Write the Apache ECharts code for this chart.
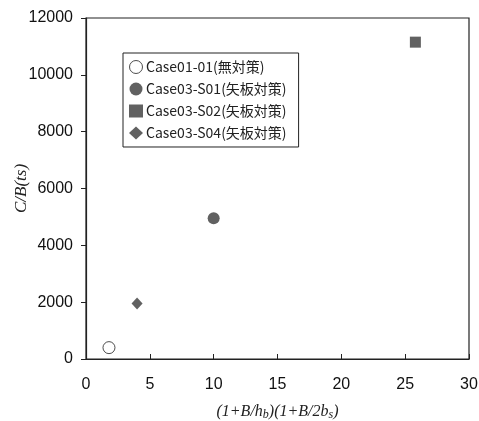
<!DOCTYPE html>
<html>
<head>
<meta charset="utf-8">
<script src="https://cdn.jsdelivr.net/npm/echarts@6/dist/echarts.min.js"></script>
<style>
  html, body { margin: 0; padding: 0; background: #fff; }
  #chart { width: 479px; height: 421px; }
</style>
</head>
<body>
<div id="chart"></div>
<script>
// series names and points [x, y]
const seriesNames = ["Case01-01(無対策)", "Case03-S01(矢板対策)", "Case03-S02(矢板対策)", "Case03-S04(矢板対策)"];
const case0101 = [[1.8, 400]];
const case03S01 = [[10, 4950]];
const case03S02 = [[25.8, 11150]];
const case03S04 = [[4, 1950]];

const xTicks = [0, 5, 10, 15, 20, 25, 30];
const yTicks = [0, 2000, 4000, 6000, 8000, 10000, 12000];

const chart = echarts.init(document.getElementById("chart"));

const ink = "#3a3a3a";
const labelFont = "Liberation Sans";

chart.setOption({
  backgroundColor: "#fff",
  animation: false,
  grid: {
    left: 86, right: 10, top: 18, bottom: 62,
    outerBoundsMode: "none",
    containLabel: false,
    show: true, borderColor: "#222", borderWidth: 1.2
  },
  legend: {
    orient: "vertical",
    left: 123, top: 53,
    itemWidth: 14, itemHeight: 13, itemGap: 8,
    padding: [7, 12, 7, 6],
    borderColor: "#222", borderWidth: 1,
    textStyle: { fontFamily: "Noto Sans CJK JP", fontSize: 14, color: "#222", padding: [0, 0, 0, -2] },
    data: [
      { name: seriesNames[0], itemStyle: { borderWidth: 1 } },
      { name: seriesNames[1] },
      { name: seriesNames[2] },
      { name: seriesNames[3] }
    ]
  },
  xAxis: {
    type: "value",
    min: xTicks[0], max: xTicks[xTicks.length - 1], interval: 5,
    axisLine: { lineStyle: { color: "#222", width: 1.2 } },
    axisTick: { inside: true, length: 5, lineStyle: { color: "#222" } },
    splitLine: { show: false },
    axisLabel: { fontFamily: labelFont, fontSize: 16, color: "#111", margin: 18 },
    name: "{i|(1+B/h}{s|b}{i|)(1+B/2b}{s|s}{i|)}",
    nameLocation: "middle",
    nameGap: 44,
    nameMoveOverlap: false,
    nameTextStyle: {
      rich: {
        i: { fontFamily: "Liberation Serif", fontStyle: "italic", fontSize: 16, color: "#222" },
        s: { fontFamily: "Liberation Serif", fontStyle: "italic", fontSize: 12, color: "#222", verticalAlign: "bottom", padding: [6, 0, 0, 0] }
      }
    }
  },
  yAxis: {
    type: "value",
    min: yTicks[0], max: yTicks[yTicks.length - 1], interval: 2000,
    axisLine: { show: true, lineStyle: { color: "#222", width: 1.2 } },
    axisTick: { show: true, inside: false, length: 5, lineStyle: { color: "#222" } },
    splitLine: { show: false },
    axisLabel: { fontFamily: labelFont, fontSize: 16, color: "#111", margin: 13, formatter: v => String(v) },
    name: "C/B(ts)",
    nameLocation: "middle",
    nameGap: 56,
    nameMoveOverlap: false,
    nameTextStyle: { fontFamily: "Liberation Serif", fontStyle: "italic", fontSize: 17, color: "#222" }
  },
  series: [
    {
      name: seriesNames[0], type: "scatter", data: case0101,
      symbol: "circle", symbolSize: 12,
      itemStyle: { color: "#fff", borderColor: "#222", borderWidth: 1 }
    },
    {
      name: seriesNames[1], type: "scatter", data: case03S01,
      symbol: "circle", symbolSize: 12,
      itemStyle: { color: ink }
    },
    {
      name: seriesNames[2], type: "scatter", data: case03S02,
      symbol: "rect", symbolSize: 11,
      itemStyle: { color: ink }
    },
    {
      name: seriesNames[3], type: "scatter", data: case03S04,
      symbol: "diamond", symbolSize: [11, 12],
      itemStyle: { color: ink }
    }
  ]
});
</script>
</body>
</html>
